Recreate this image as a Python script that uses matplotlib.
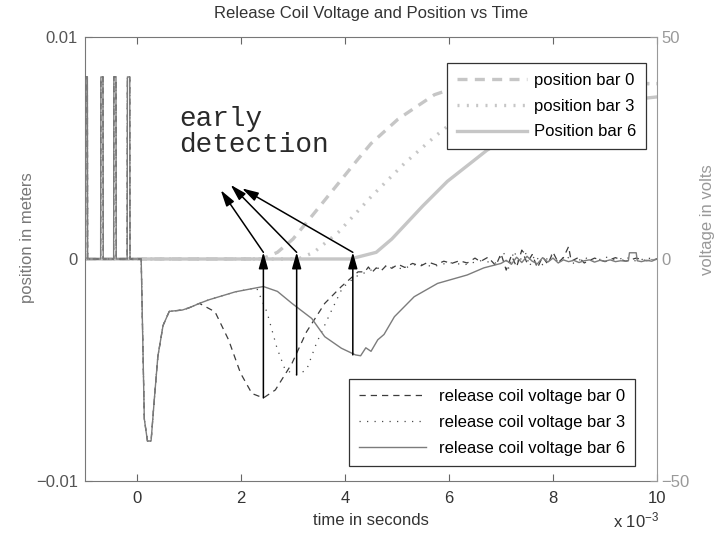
import matplotlib
matplotlib.use('Agg')
import matplotlib.pyplot as plt

plt.rcParams['font.family'] = ['Liberation Sans', 'DejaVu Sans']
plt.rcParams['mathtext.default'] = 'regular'

# --- armature position [m], time in ms ---------------------------------
pos_t_bar0 = [-1.0, 2.4, 2.7, 3.0, 3.42, 3.87, 4.25, 4.5, 5.02, 5.4, 5.72, 6.1, 6.5, 7.0, 10.0]
pos_y_bar0 = [0, 0, 0.0003, 0.0009, 0.0021, 0.0034, 0.0045, 0.0052, 0.0063, 0.0069, 0.0074, 0.0077, 0.0079, 0.0079, 0.0079]

pos_t_bar3 = [-1.0, 3.1, 3.4, 3.87, 4.5, 5.14, 5.72, 6.3, 7.0, 7.6, 8.2, 10.0]
pos_y_bar3 = [0, 0, 0.0003, 0.0012, 0.0028, 0.0043, 0.0055, 0.0066, 0.0075, 0.0079, 0.0079, 0.0079]

pos_t_bar6 = [-1.0, 4.1, 4.6, 4.9, 5.14, 5.5, 5.97, 6.73, 7.5, 8.3, 9.2, 10.0]
pos_y_bar6 = [0, 0, 0.0003, 0.0009, 0.0015, 0.0024, 0.0035, 0.0049, 0.0060, 0.0067, 0.0071, 0.0073]

# --- release coil voltage [V] -----------------------------------------
# common part: drive pulses and the release dip
volt_t_start = [-1.0, -0.99, -0.985, -0.955, -0.95, -0.70, -0.695, -0.655, -0.65,
                -0.45, -0.445, -0.405, -0.40, -0.19, -0.185, -0.14, -0.135,
                0.08, 0.14, 0.2, 0.27, 0.33, 0.4, 0.5, 0.62, 0.87, 1.0, 1.2]
volt_v_start = [0, 0, 41, 41, 0, 0, 41, 41, 0,
                0, 41, 41, 0, 0, 41, 41, 0,
                0, -36, -41, -41, -32, -22, -15, -11.8, -11.5, -11.0, -10.0]

volt_t_bar0 = [1.5, 1.76, 1.99, 2.21, 2.43, 2.66, 2.98, 3.26, 3.61, 3.93, 4.25,
               4.38, 4.45, 4.52, 4.6, 4.7, 4.8, 4.9, 5.02, 5.15, 5.3, 5.45, 5.6,
               5.75, 5.9, 6.05, 6.2, 6.35, 6.5, 6.6, 6.75, 6.9, 7.0, 7.1, 7.2,
               7.3, 7.4, 7.5, 7.6, 7.7, 7.8, 7.9, 8.0, 8.1, 8.2, 8.3, 8.35, 8.5,
               8.6, 8.8, 9.0, 9.2, 9.4, 9.6, 9.8, 10.0]
volt_v_bar0 = [-11.9, -18.2, -25.7, -30.3, -31.3, -29.5, -23.5, -16.4, -10.0, -6.2, -2.9,
               -2.9, -1.8, -3.0, -2.0, -2.6, -1.4, -2.1, -1.2, -1.9, -1.0, -1.6, -0.7,
               -1.3, -0.5, -1.0, -0.4, -0.9, 0.2, -0.6, 0.4, -1.5, 1.2, -2.5, 0.8,
               -1.8, 2.0, -0.9, 1.0, -2.0, 0.5, -1.2, 1.5, -0.8, 0.3, 2.8, -0.5, 0.4,
               -0.9, 0.2, -0.6, 0.3, -0.5, 0.2, -0.4, 0.0]

volt_t_bar3 = [1.38, 1.89, 2.3, 2.5, 2.69, 2.85, 3.07, 3.26, 3.45, 3.7, 3.95, 4.2,
               4.5, 4.8, 5.1, 5.4, 5.7, 6.0, 6.3, 6.6, 6.9, 7.05, 7.15, 7.25, 7.35,
               7.45, 7.55, 7.65, 7.8, 7.95, 8.1, 8.25, 8.4, 8.6, 8.8, 9.0, 9.2,
               9.4, 9.6, 9.8, 10.0]
volt_v_bar3 = [-9.2, -7.4, -6.5, -12.0, -20.0, -25.0, -26.1, -25.0, -19.0, -12.6, -6.5, -4.0,
               -2.5, -1.6, -2.2, -1.1, -1.7, -0.8, -1.3, -0.4, -0.9, 1.5, -2.2, 1.8, -1.0,
               2.2, -1.6, 0.9, -1.3, 1.1, -0.6, 0.8, -1.0, 0.4, -0.7, 0.5, -0.3,
               0.4, -0.5, 0.2, 0.0]

volt_t_bar6 = [1.38, 1.89, 2.43, 2.7, 2.98, 3.36, 3.61, 3.93, 4.2, 4.3, 4.4, 4.5,
               4.63, 4.75, 4.8, 4.95, 5.33, 5.78, 6.35, 6.67, 7.0, 7.1, 7.2, 7.3,
               7.4, 7.5, 7.6, 7.7, 7.8, 7.9, 8.0, 8.1, 8.2, 8.3, 8.4, 8.5, 8.6,
               8.7, 8.8, 8.9, 9.0, 9.1, 9.2, 9.3, 9.4, 9.45, 9.47, 9.6, 9.62,
               9.7, 9.8, 9.9, 10.0]
volt_v_bar6 = [-9.2, -7.4, -6.2, -7.3, -10.0, -13.4, -17.5, -20.1, -21.6, -21.8, -20.0, -20.8,
               -18.2, -17.0, -16.0, -13.0, -8.5, -5.5, -3.6, -2.0, -1.0, -0.3, -1.2, 0.4,
               -0.8, 0.6, -0.5, -1.1, 0.3, -0.7, 0.2, -0.9, -0.2, -0.6, -0.3, -0.8, -0.4,
               -0.2, -0.7, -0.3, -0.5, -0.2, -0.6, -0.4, -0.5, -0.4, 1.4, 1.4, -0.4,
               -0.6, -0.3, -0.5, 0.0]

# detection points: time of the voltage minimum and where the arrows end
detect_t = [2.43, 3.07, 4.15]
detect_v = [-31.3, -26.1, -21.6]
note_t = [1.61, 1.80, 2.02]
note_v = [15.5, 16.7, 15.9]

pos_labels = ['position bar 0', 'position bar 3', 'Position bar 6']
volt_labels = ['release coil voltage bar 0', 'release coil voltage bar 3',
               'release coil voltage bar 6']


def plot():
    fig = plt.figure(figsize=(7.2, 5.33), dpi=100)
    ax1 = fig.add_axes([0.1181, 0.0976, 0.7944, 0.833])
    ax2 = ax1.twinx()

    pos_color = '#c6c6c6'
    p0, = ax1.plot(pos_t_bar0, pos_y_bar0, color=pos_color, lw=2.4, dashes=(3, 2.2))
    p3, = ax1.plot(pos_t_bar3, pos_y_bar3, color=pos_color, lw=2.4, dashes=(0.6, 2.2))
    p6, = ax1.plot(pos_t_bar6, pos_y_bar6, color=pos_color, lw=2.4)

    v0, = ax2.plot(volt_t_start + volt_t_bar0, volt_v_start + volt_v_bar0,
                   color='#3c3c3c', lw=0.9, dashes=(5, 4))
    v3, = ax2.plot(volt_t_start + volt_t_bar3, volt_v_start + volt_v_bar3,
                   color='#4a4a4a', lw=0.9, dashes=(1, 5))
    v6, = ax2.plot(volt_t_start + volt_t_bar6, volt_v_start + volt_v_bar6,
                   color='#7c7c7c', lw=1.0)

    # axis limits and ticks
    ax1.set_xlim(-1, 10)
    ax1.set_ylim(-0.01, 0.01)
    ax2.set_ylim(-50, 50)
    ax1.set_xticks([0, 2, 4, 6, 8, 10])
    ax1.set_yticks([-0.01, 0, 0.01])
    ax1.set_yticklabels(['\u22120.01', '0', '0.01'])
    ax2.set_yticks([-50, 0, 50])
    ax1.tick_params(axis='x', direction='in', length=5, top=True, pad=7,
                    labelsize=12, colors='#666666', labelcolor='#333333')
    ax1.tick_params(axis='y', direction='in', length=5, pad=5,
                    labelsize=12, colors='#666666', labelcolor='#555555')
    ax2.tick_params(axis='y', direction='in', length=5, pad=3,
                    labelsize=12, colors='#999999', labelcolor='#999999')
    for side in ['left', 'top', 'bottom']:
        ax1.spines[side].set_color('#777777')
        ax2.spines[side].set_visible(False)
    ax1.spines['right'].set_visible(False)
    ax2.spines['right'].set_color('#999999')

    # labels
    ax1.set_title('Release Coil Voltage and Position vs Time', fontsize=12,
                  color='#333333', pad=14)
    ax1.set_xlabel('time in seconds', fontsize=12, color='#333333')
    ax1.xaxis.set_label_coords(0.5, -0.072)
    ax1.set_ylabel('position in meters', fontsize=12, color='#777777')
    ax1.yaxis.set_label_coords(-0.087, 0.547)
    ax2.set_ylabel('voltage in volts', fontsize=12, color='#999999', rotation=90)
    ax2.yaxis.set_label_coords(1.076, 0.588)
    fig.text(613 / 720, 1 - 527 / 533, 'x 10$^{-3}$', fontsize=12,
             color='#333333', ha='left', va='baseline')

    # arrows from the voltage minima up to the start of motion
    for t, v, nt, nv in zip(detect_t, detect_v, note_t, note_v):
        ax2.annotate('', xy=(t, 1.5), xytext=(t, v),
                     arrowprops=dict(arrowstyle='-|>,head_length=0.7,head_width=0.2',
                                     color='black', lw=1.1, mutation_scale=14,
                                     shrinkA=0, shrinkB=0))
        ax2.annotate('', xy=(nt, nv), xytext=(t, 1.5),
                     arrowprops=dict(arrowstyle='-|>,head_length=0.7,head_width=0.2',
                                     color='black', lw=1.1, mutation_scale=14,
                                     shrinkA=0, shrinkB=0))
    ax2.text(0.81, 30.0, 'early', family='Liberation Mono', fontsize=20,
             color='#2a2a2a', va='baseline')
    ax2.text(0.81, 24.2, 'detection', family='Liberation Mono', fontsize=20,
             color='#2a2a2a', va='baseline')

    # legends
    leg1 = ax2.legend([p0, p3, p6], pos_labels, loc='upper right',
                      bbox_to_anchor=(0.981, 0.942), fontsize=12, handlelength=4.2,
                      handletextpad=0.4, labelspacing=0.65, borderpad=0.6,
                      borderaxespad=0, fancybox=False, framealpha=1,
                      edgecolor='#333333')
    leg1.get_frame().set_linewidth(0.9)
    ax2.add_artist(leg1)
    leg2 = ax2.legend([v0, v3, v6], volt_labels, loc='lower right',
                      bbox_to_anchor=(0.9615, 0.034), fontsize=12, handlelength=4.0,
                      handletextpad=0.8, labelspacing=0.65, borderpad=0.6,
                      borderaxespad=0, fancybox=False, framealpha=1,
                      edgecolor='#333333')
    leg2.get_frame().set_linewidth(0.9)

    return fig


figure = plot()
figure.savefig('out.png', dpi=100)
